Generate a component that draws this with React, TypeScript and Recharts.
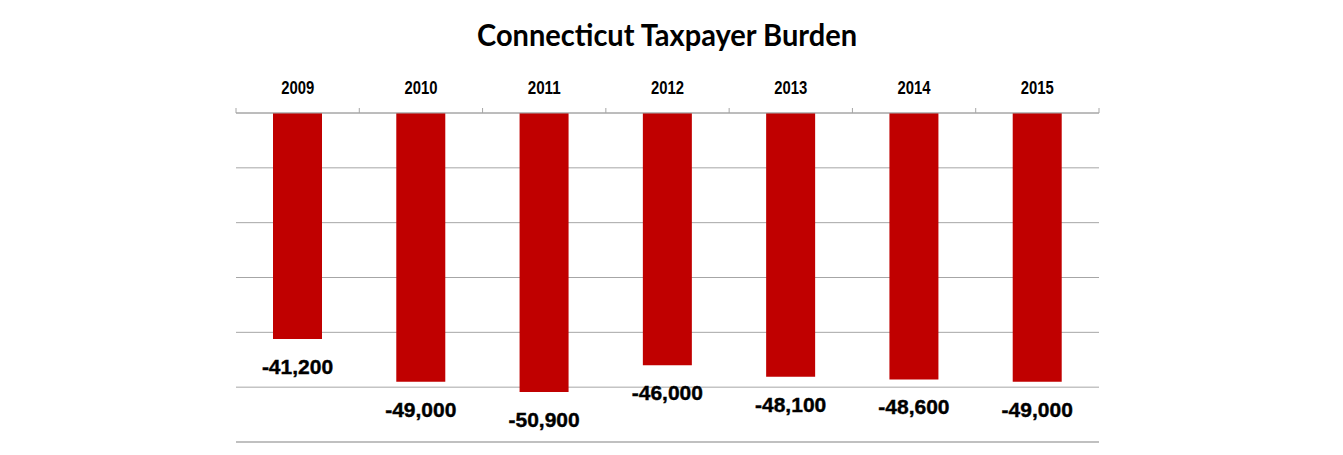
import { Bar, BarChart, CartesianGrid, LabelList, ReferenceLine, XAxis, YAxis } from "recharts";

const years = ["2009", "2010", "2011", "2012", "2013", "2014", "2015"];
const burden = [-41200, -49000, -50900, -46000, -48100, -48600, -49000];
const yTicks = [-60000, -50000, -40000, -30000, -20000, -10000, 0];

const data = years.map((year, i) => ({ year, burden: burden[i] }));

const W = 1343;
const H = 455;
const AXIS_Y = 113;
const AXIS_H = 30;
const M = { top: AXIS_Y - AXIS_H, left: 236, right: 244, bottom: 13 };
const band = (W - M.left - M.right) / years.length;

function YearTick(props: any) {
  const { x, payload, index } = props;
  const left = x - band / 2;
  const y = AXIS_Y;
  return (
    <g>
      <line x1={left} x2={left} y1={y} y2={y - 5} stroke="#a6a6a6" />
      {index === years.length - 1 && (
        <line x1={left + band} x2={left + band} y1={y} y2={y - 5} stroke="#a6a6a6" />
      )}
      <text
        x={x}
        y={y - 19}
        textAnchor="middle"
        fontFamily="'Liberation Sans', Arial, sans-serif"
        fontWeight={700}
        fontSize={18.5}
        textLength={33}
        lengthAdjust="spacingAndGlyphs"
        fill="#000"
      >
        {payload.value}
      </text>
    </g>
  );
}

function ValueLabel(props: any) {
  const { x, y, width, height, value } = props;
  const bottom = Math.max(y, y + height);
  return (
    <text
      x={x + width / 2}
      y={bottom + 35}
      textAnchor="middle"
      fontFamily="'Liberation Sans', Arial, sans-serif"
      fontWeight={700}
      fontSize={21}
      fill="#000"
      stroke="#000"
      strokeWidth={0.4}
    >
      {Number(value).toLocaleString("en-US")}
    </text>
  );
}

export default function App() {
  return (
    <div style={{ position: "relative", width: W, height: H, background: "#fff" }}>
      <style>{`body{margin:0}`}</style>
      <svg width={W} height={60} style={{ position: "absolute", left: 0, top: 0, zIndex: 1 }}>
        <text
          x={667}
          y={46}
          textAnchor="middle"
          fontFamily="Lato, 'Open Sans', sans-serif"
          fontWeight={700}
          fontSize={31}
          textLength={380}
          lengthAdjust="spacingAndGlyphs"
          fill="#000"
        >
          Connecticut Taxpayer Burden
        </text>
      </svg>
      <BarChart width={W} height={H} data={data} margin={M}>
        <CartesianGrid horizontal vertical={false} stroke="#a6a6a6" />
        <YAxis hide type="number" domain={[-60000, 0]} ticks={yTicks} />
        <XAxis
          dataKey="year"
          orientation="top"
          height={AXIS_H}
          axisLine={{ stroke: "#a6a6a6" }}
          tickLine={false}
          tick={<YearTick />}
          interval={0}
        />
        <ReferenceLine y={-60000} stroke="#c0c0c0" strokeWidth={2} />
        <Bar dataKey="burden" fill="#c00000" barSize={49} isAnimationActive={false}>
          <LabelList dataKey="burden" content={<ValueLabel />} />
        </Bar>
      </BarChart>
    </div>
  );
}
